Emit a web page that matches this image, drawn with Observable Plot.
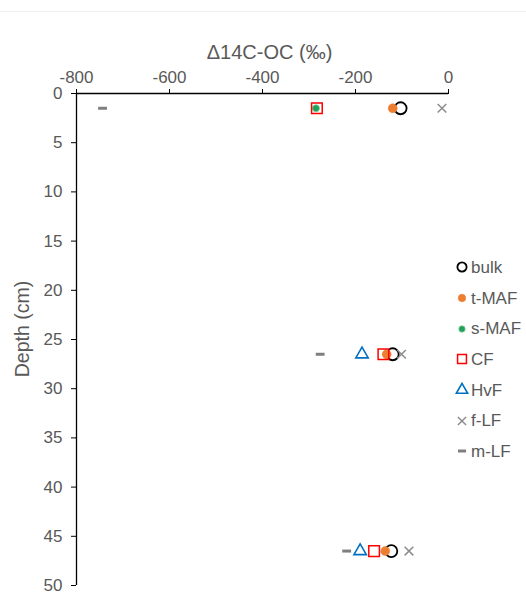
<!DOCTYPE html>
<html>
<head>
<meta charset="utf-8">
<script src="https://cdn.jsdelivr.net/npm/d3@7"></script>
<script src="https://cdn.jsdelivr.net/npm/@observablehq/plot@0.6"></script>
<style>
  html, body { margin: 0; padding: 0; background: #fff; }
  #wrap { position: relative; width: 526px; height: 598px; font-family: "Liberation Sans", Arial, sans-serif; }
  #topline { position: absolute; left: 0; top: 11px; width: 526px; height: 0; border-top: 1px solid #efefef; }
  #legend { position: absolute; left: 455px; top: 252px; color: #595959; font-size: 17px; font-family: "Liberation Sans", Arial, sans-serif; line-height: 1; }
  .item { display: flex; align-items: center; height: 30.7px; }
  .item svg { margin-right: 2px; overflow: visible; flex: none; }
</style>
</head>
<body>
<div id="wrap"></div>
<script>
// Data
const depth = [1.5, 26.5, 46.5];
const seriesNames = ["bulk", "t-MAF", "s-MAF", "CF", "HvF", "f-LF", "m-LF"];
const bulk = [-103, -120, -123];
const tMAF = [-120, -133, -136];
const sMAF = [-285, null, null];
const CF = [-283, -140, -160];
const HvF = [null, -186, -190];
const fLF = [-14, -101, -85];
const mLF = [-744, -276, -219];
const xTicks = [-800, -600, -400, -200, 0];
const yTicks = [0, 5, 10, 15, 20, 25, 30, 35, 40, 45, 50];
const xTitle = "Δ14C-OC (‰)";
const yTitle = "Depth (cm)";

const seriesValues = [bulk, tMAF, sMAF, CF, HvF, fLF, mLF];
const rows = [];
seriesNames.forEach((s, i) => depth.forEach((d, j) => {
  if (seriesValues[i][j] != null) rows.push({series: s, depth: d, value: seriesValues[i][j]});
}));
const of = s => rows.filter(r => r.series === s);

const dash = {
  draw(ctx, size) {
    const w = Math.sqrt(size) * 0.5;
    ctx.moveTo(-w, 0); ctx.lineTo(w, 0);
  }
};

const styles = {
  "bulk":  {symbol: "circle", r: 6, lr: 4.6, fill: "none", stroke: "#000000", strokeWidth: 1.8},
  "t-MAF": {symbol: "circle", r: 4.5, lr: 3.8, fill: "#ED7D31", stroke: "#ED7D31", strokeWidth: 0.5},
  "s-MAF": {symbol: "circle", r: 3.5, lr: 3.2, fill: "#1FA257", stroke: "#7FCB9C", strokeWidth: 0.8},
  "CF":    {symbol: "square", r: 6, lr: 5, fill: "none", stroke: "#FF0000", strokeWidth: 1.5},
  "HvF":   {symbol: "triangle", r: 4.6, lr: 4.2, fill: "none", stroke: "#0070C0", strokeWidth: 1.6},
  "f-LF":  {symbol: "times", r: 4, lr: 3.8, fill: "none", stroke: "#8C8C8C", strokeWidth: 1.5},
  "m-LF":  {symbol: dash, r: 5, lr: 4.6, fill: "none", stroke: "#7F7F7F", strokeWidth: 3}
};

const marks = [
  Plot.axisX({anchor: "top", ticks: xTicks, tickSize: 5, tickPadding: 6, fontSize: 17, tickFormat: d => String(d),
    label: null, stroke: "#000", color: "#595959"}),
  Plot.axisY({anchor: "left", ticks: yTicks, tickSize: 5, tickPadding: 9, fontSize: 17, tickFormat: d => String(d),
    label: null, stroke: "#000", color: "#595959"}),
  Plot.text([xTitle], {frameAnchor: "top", text: d => d, dy: -49, dx: 7, fontSize: 20, fill: "#595959"}),
  Plot.text([yTitle], {frameAnchor: "left", text: d => d, textAnchor: "middle", rotate: -90, dx: -53.5, dy: -10.5, fontSize: 19.5, fill: "#595959"}),
  Plot.ruleY([0], {stroke: "#000", strokeWidth: 1.3}),
  Plot.ruleX([-800], {stroke: "#000", strokeWidth: 1.3})
];
seriesNames.forEach(s => {
  const st = styles[s];
  marks.push(Plot.dot(of(s), {x: "value", y: "depth", symbol: () => st.symbol, r: st.r,
    fill: st.fill, stroke: st.stroke, strokeWidth: st.strokeWidth}));
});

const chart = Plot.plot({
  width: 526,
  height: 598,
  marginTop: 93,
  marginLeft: 76,
  marginRight: 78,
  marginBottom: 13,
  style: {fontSize: "17px", fontFamily: "'Liberation Sans', Arial, sans-serif", color: "#595959", background: "#fff"},
  x: {domain: [-800, 0]},
  y: {domain: [0, 50], reverse: true},
  symbol: {type: "identity"},
  marks
});
const wrap = document.getElementById("wrap");
wrap.appendChild(chart);
const topline = document.createElement("div");
topline.id = "topline";
wrap.appendChild(topline);

// Legend
const legend = document.createElement("div");
legend.id = "legend";
const symMap = {circle: d3.symbolCircle, square: d3.symbolSquare, triangle: d3.symbolTriangle, times: d3.symbolTimes};
seriesNames.forEach(s => {
  const st = styles[s];
  const item = document.createElement("div");
  item.className = "item";
  const svg = d3.create("svg").attr("width", 14).attr("height", 14);
  const symType = typeof st.symbol === "string" ? symMap[st.symbol] : st.symbol;
  svg.append("path")
    .attr("transform", "translate(7,7)")
    .attr("d", d3.symbol(symType, Math.PI * st.lr * st.lr)())
    .attr("fill", st.fill).attr("stroke", st.stroke).attr("stroke-width", st.strokeWidth);
  item.appendChild(svg.node());
  const t = document.createElement("span");
  t.textContent = s;
  item.appendChild(t);
  legend.appendChild(item);
});
wrap.appendChild(legend);
</script>
</body>
</html>
